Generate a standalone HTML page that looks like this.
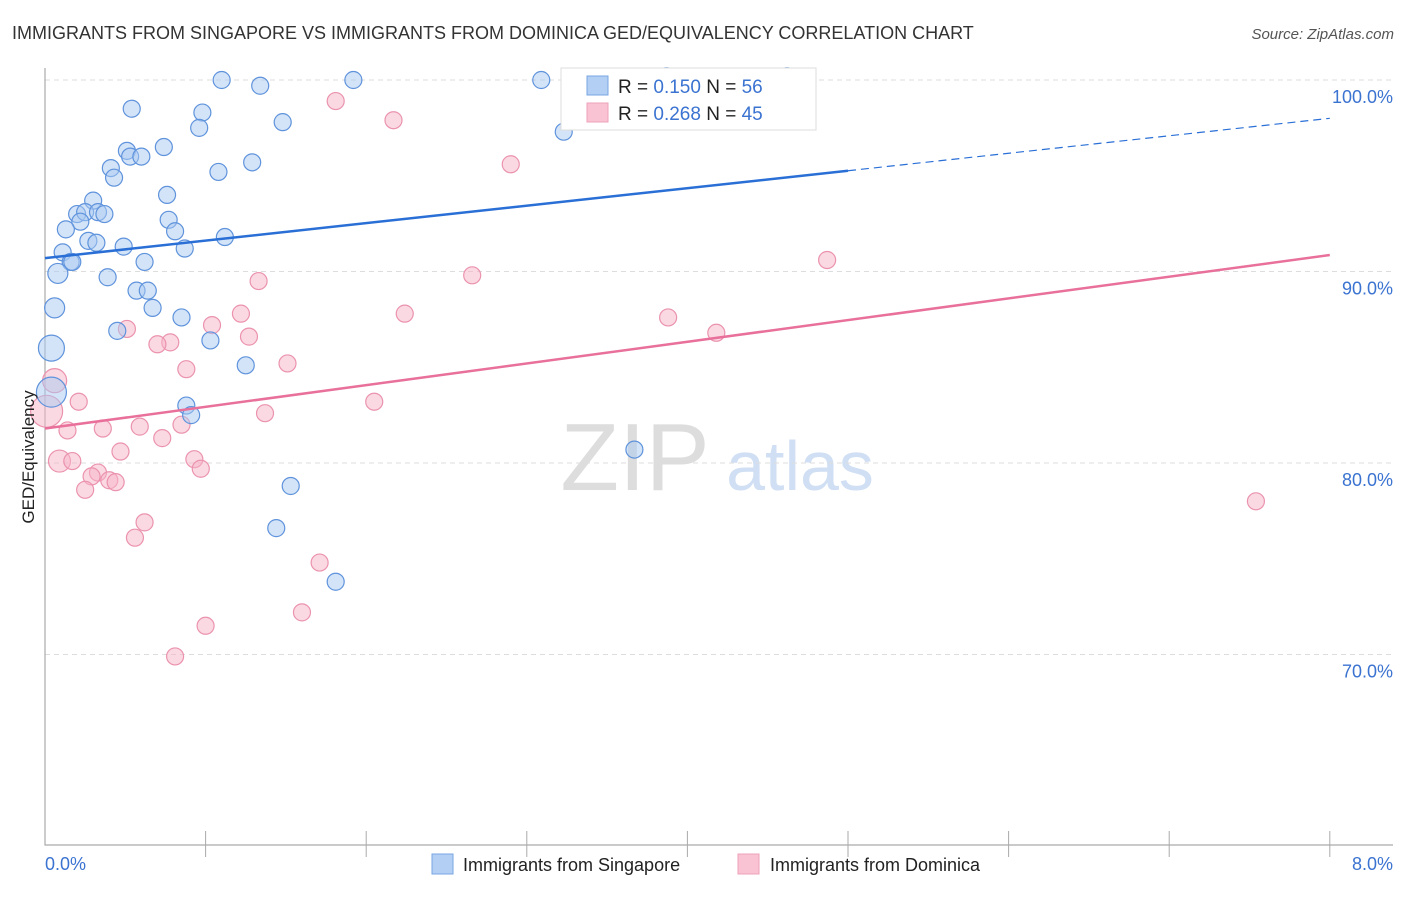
<!DOCTYPE html>
<html><head><meta charset="utf-8"><style>
body{margin:0;background:#fff;font-family:"Liberation Sans",sans-serif;}
svg text{font-family:"Liberation Sans",sans-serif;}
</style></head><body>
<svg id="c" width="1406" height="892" viewBox="0 0 1406 892">
<text x="12" y="39" font-size="18" fill="#333">IMMIGRANTS FROM SINGAPORE VS IMMIGRANTS FROM DOMINICA GED/EQUIVALENCY CORRELATION CHART</text>
<text x="1394" y="39" font-size="15" fill="#555" font-style="italic" text-anchor="end">Source: ZipAtlas.com</text>
<g><text x="635" y="490" font-size="96" fill="#ddd" text-anchor="middle" font-family="Liberation Serif">ZIP</text><text x="800" y="490" font-size="70" fill="#d0dff3" text-anchor="middle">atlas</text></g>
<g id="grid"></g><g id="axes"></g><g id="marks"></g><g id="lines"></g>
<text transform="translate(34,457) rotate(-90)" font-size="17" fill="#222" text-anchor="middle">GED/Equivalency</text>
<text x="45" y="870" font-size="18" fill="#3b73d1">0.0%</text>
<text x="1393" y="870" font-size="18" fill="#3b73d1" text-anchor="end">8.0%</text>
<g>
<rect x="561" y="68" width="255" height="62" fill="#fff" stroke="#ddd"/>
<rect x="587" y="76" width="21" height="19" fill="#b3cff4" stroke="#7aa6e3"/>
<rect x="587" y="103" width="21" height="19" fill="#f9c3d3" stroke="#eea0b8"/>
<text x="618" y="93" font-size="19" fill="#222">R = <tspan fill="#3b73d1">0.150</tspan>   N = <tspan fill="#3b73d1">56</tspan></text>
<text x="618" y="120" font-size="19" fill="#222">R = <tspan fill="#3b73d1">0.268</tspan>   N = <tspan fill="#3b73d1">45</tspan></text>
</g>
<g>
<rect x="432" y="854" width="21" height="20" fill="#b3cff4" stroke="#7aa6e3"/>
<text x="463" y="871" font-size="18" fill="#222">Immigrants from Singapore</text>
<rect x="738" y="854" width="21" height="20" fill="#f9c3d3" stroke="#eea0b8"/>
<text x="770" y="871" font-size="18" fill="#222">Immigrants from Dominica</text>
</g>
</svg>
<script>
const yTicks=[100,90,80,70];
const yTickLabels=["100.0%","90.0%","80.0%","70.0%"];
const xTicks=[1,2,3,4,5,6,7,8];
const blueX=[1.10,1.34,1.92,3.09,3.87,4.62,3.23,0.54,0.98,1.48,0.96,0.74,0.51,0.53,0.60,0.41,0.43,1.29,1.08,0.30,0.76,0.20,0.25,0.33,0.37,0.22,0.77,0.81,0.13,0.27,0.32,0.49,0.87,1.12,0.11,0.16,0.17,0.62,0.08,0.39,0.57,0.64,0.67,0.06,0.85,0.45,1.03,0.04,1.25,0.04,0.88,0.91,3.67,1.53,1.44,1.81];
const blueY=[100,99.7,100,100,100.2,100.2,97.3,98.5,98.3,97.8,97.5,96.5,96.3,96.0,96.0,95.4,94.9,95.7,95.2,93.7,94.0,93.0,93.1,93.1,93.0,92.6,92.7,92.1,92.2,91.6,91.5,91.3,91.2,91.8,91.0,90.5,90.5,90.5,89.9,89.7,89.0,89.0,88.1,88.1,87.6,86.9,86.4,86.0,85.1,83.7,83.0,82.5,80.7,78.8,76.6,73.8];
const blueBig={38:10,43:10,47:13,49:15};
const pinkX=[1.81,2.17,2.90,4.87,2.66,1.33,2.24,3.88,4.18,1.22,1.04,0.51,1.27,0.78,0.70,1.51,0.88,0.06,0.21,2.05,0.01,1.37,0.14,0.36,0.59,0.85,0.73,0.47,0.09,0.17,0.93,0.97,0.33,0.29,0.40,0.44,0.25,7.54,0.62,0.56,1.71,1.60,1.00,0.81];
const pinkY=[98.9,97.9,95.6,90.6,89.8,89.5,87.8,87.6,86.8,87.8,87.2,87.0,86.6,86.3,86.2,85.2,84.9,84.3,83.2,83.2,82.7,82.6,81.7,81.8,81.9,82.0,81.3,80.6,80.1,80.1,80.2,79.7,79.5,79.3,79.1,79.0,78.6,78.0,76.9,76.1,74.8,72.2,71.5,69.9];
const pinkBig={17:12,20:16,28:11};
const blueTrend=[90.7,98.0]; const blueSolidEnd=5.0;
const pinkTrend=[81.8,90.86];
const X=v=>45+v*160.6, Y=v=>80+(100-v)*19.15;
const NS="http://www.w3.org/2000/svg";
function mk(p,t,a){const e=document.createElementNS(NS,t);for(const k in a)e.setAttribute(k,a[k]);document.getElementById(p).appendChild(e);return e;}
yTicks.forEach((t,i)=>{
 const l=mk('grid','line',{x1:45,x2:1393,y1:Y(t),y2:Y(t),stroke:'#ddd','stroke-dasharray':'5,4'});
 
 
 const tx=mk('grid','text',{x:1393,y:Y(t)+23,'font-size':18,fill:'#3b73d1','text-anchor':'end'});tx.textContent=yTickLabels[i];
 
 
});
const ax=mk('axes','path',{d:`M45,68V845H1393`,stroke:'#aaa',fill:'none','stroke-width':1.2});


xTicks.forEach(t=>{const l=mk('axes','line',{x1:X(t),x2:X(t),y1:831,y2:857,stroke:'#aaa'});
 
 });
function pts(xs,ys,big,fill,stroke,name){xs.forEach((x,i)=>{const c=mk('marks','circle',{cx:X(x),cy:Y(ys[i]),r:big[i]||8.5,fill:fill,'fill-opacity':0.5,stroke:stroke,'stroke-width':1.2});
 
 });}
pts(pinkX,pinkY,pinkBig,'#f7b3c7','#eb93ae','dominica-point');
pts(blueX,blueY,blueBig,'#a9c9f2','#5f93dc','singapore-point');
const bl=v=>blueTrend[0]+(blueTrend[1]-blueTrend[0])*v/8, pl=v=>pinkTrend[0]+(pinkTrend[1]-pinkTrend[0])*v/8;
let e=mk('lines','line',{x1:X(0),y1:Y(bl(0)),x2:X(blueSolidEnd),y2:Y(bl(blueSolidEnd)),stroke:'#2a6fd6','stroke-width':2.5});


e=mk('lines','line',{x1:X(blueSolidEnd),y1:Y(bl(blueSolidEnd)),x2:X(8),y2:Y(bl(8)),stroke:'#2a6fd6','stroke-width':1.2,'stroke-dasharray':'8,5'});


e=mk('lines','line',{x1:X(0),y1:Y(pl(0)),x2:X(8),y2:Y(pl(8)),stroke:'#e8709a','stroke-width':2.5});


</script>
</body></html>
